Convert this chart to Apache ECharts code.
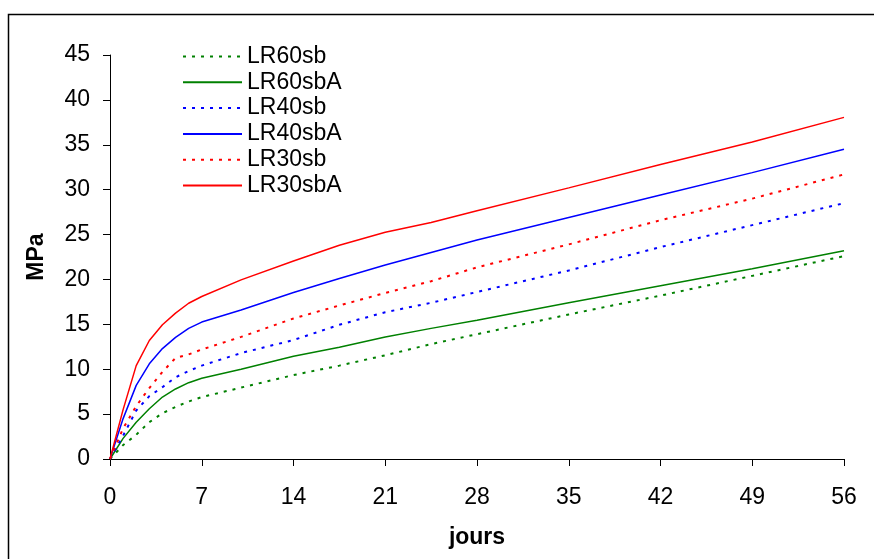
<!DOCTYPE html>
<html>
<head>
<meta charset="utf-8">
<script src="https://cdn.jsdelivr.net/npm/echarts@6/dist/echarts.min.js"></script>
<style>
html,body{margin:0;padding:0;background:#fff;}
#chart{width:874px;height:559px;}
</style>
</head>
<body>
<div id="chart"></div>
<script>
// Days (x values)
const days = [0, 1, 2, 3, 4, 5, 6, 7, 10, 14, 17.5, 21, 24.5, 28, 35, 42, 49, 56];
// Series values (MPa)
const LR60sb  = [0, 1.55, 2.7, 4.1, 5.1, 5.8, 6.4, 6.9, 7.95, 9.35, 10.4, 11.55, 12.8, 13.9, 16.1, 18.2, 20.4, 22.6];
const LR60sbA = [0, 2.3, 4.1, 5.6, 6.9, 7.8, 8.5, 9.0, 10.0, 11.45, 12.45, 13.6, 14.55, 15.45, 17.4, 19.3, 21.2, 23.2];
const LR40sb  = [0, 2.6, 5.4, 7.0, 8.0, 9.1, 9.8, 10.4, 11.8, 13.25, 14.95, 16.35, 17.4, 18.6, 21.0, 23.6, 26.05, 28.5];
const LR40sbA = [0, 4.5, 8.2, 10.6, 12.3, 13.55, 14.55, 15.25, 16.6, 18.55, 20.1, 21.6, 23.0, 24.4, 26.9, 29.4, 31.9, 34.5];
const LR30sb  = [0, 3.4, 5.9, 7.9, 9.7, 11.25, 11.65, 12.2, 13.6, 15.65, 17.1, 18.5, 19.8, 21.35, 23.9, 26.6, 29.0, 31.7];
const LR30sbA = [0, 5.5, 10.4, 13.2, 14.95, 16.25, 17.35, 18.1, 19.95, 22.05, 23.8, 25.25, 26.35, 27.65, 30.2, 32.8, 35.3, 38.05];

const seriesNames = ['LR60sb', 'LR60sbA', 'LR40sb', 'LR40sbA', 'LR30sb', 'LR30sbA'];
const seriesData = [LR60sb, LR60sbA, LR40sb, LR40sbA, LR30sb, LR30sbA];
const seriesColors = ['#008000', '#008000', '#0000ff', '#0000ff', '#ff0000', '#ff0000'];
const seriesDotted = [true, false, true, false, true, false];

const FONT = 'Liberation Sans, Arial, sans-serif';

const chart = echarts.init(document.getElementById('chart'), null, {renderer: 'canvas'});

const series = seriesNames.map((name, i) => ({
  name: name,
  type: 'line',
  data: days.map((d, j) => [d, seriesData[i][j]]),
  symbol: 'none',
  smooth: false,
  animation: false,
  itemStyle: {color: seriesColors[i]},
  lineStyle: {
    color: seriesColors[i],
    width: seriesDotted[i] ? 2 : 1.5,
    type: seriesDotted[i] ? [3, 6] : 'solid'
  }
}));

chart.setOption({
  animation: false,
  backgroundColor: '#fff',
  graphic: [{
    type: 'rect',
    shape: {x: 8.5, y: 14.5, width: 900, height: 600},
    style: {fill: 'none', stroke: '#000', lineWidth: 1.5},
    silent: true,
    z: -1
  }],
  grid: {left: 110, right: 30, top: 55, bottom: 100, containLabel: false},
  legend: {
    orient: 'vertical',
    left: 177,
    top: 40,
    itemWidth: 59,
    itemHeight: 14,
    itemGap: 2.8,
    itemStyle: {opacity: 0},
    textStyle: {fontFamily: FONT, fontSize: 23, color: '#000', lineHeight: 23, padding: [0, 0, 0, 0]},
    data: seriesNames
  },
  xAxis: {
    type: 'value',
    min: 0,
    max: 56,
    interval: 7,
    name: 'jours',
    nameLocation: 'middle',
    nameGap: 67,
    nameTextStyle: {fontFamily: FONT, fontSize: 23, fontWeight: 'bold', color: '#000'},
    axisLine: {show: true, lineStyle: {color: '#000', width: 1}},
    axisTick: {show: true, length: 7, lineStyle: {color: '#000'}},
    axisLabel: {fontFamily: FONT, fontSize: 23, color: '#000', margin: 27},
    splitLine: {show: false}
  },
  yAxis: {
    type: 'value',
    min: 0,
    max: 45,
    interval: 5,
    name: 'MPa',
    nameLocation: 'middle',
    nameGap: 62,
    nameTextStyle: {fontFamily: FONT, fontSize: 23, fontWeight: 'bold', color: '#000'},
    axisLine: {show: true, lineStyle: {color: '#000', width: 1}},
    axisTick: {show: true, length: 7, lineStyle: {color: '#000'}},
    axisLabel: {fontFamily: FONT, fontSize: 23, color: '#000', margin: 20},
    splitLine: {show: false}
  },
  series: series
});
</script>
</body>
</html>
